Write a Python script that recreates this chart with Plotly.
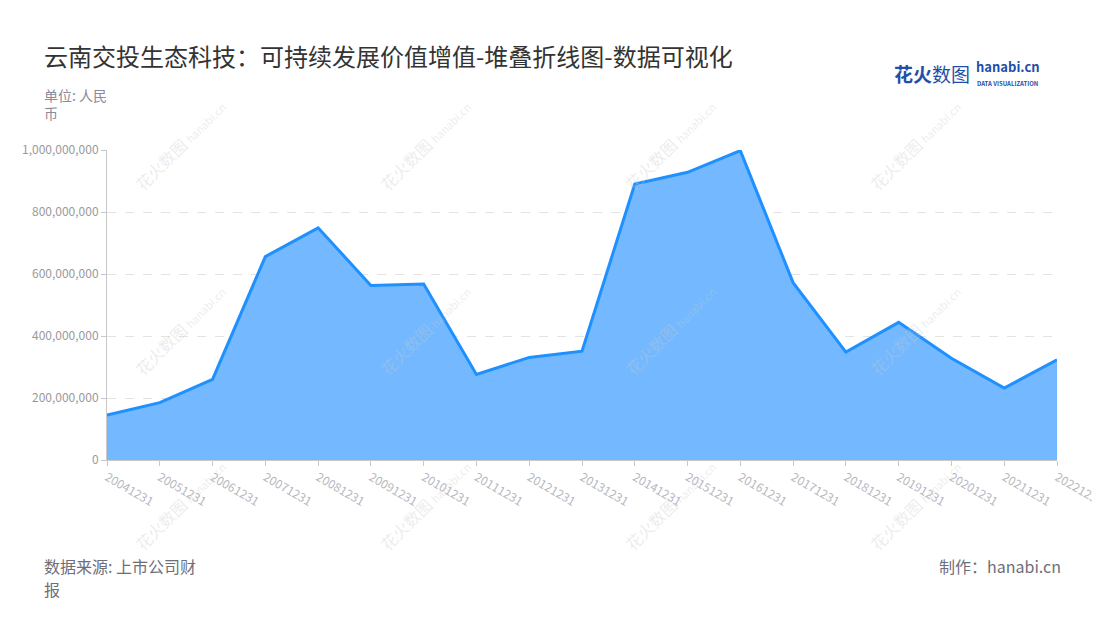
import plotly.graph_objects as go

categories = ["20041231", "20051231", "20061231", "20071231", "20081231", "20091231",
              "20101231", "20111231", "20121231", "20131231", "20141231", "20151231",
              "20161231", "20171231", "20181231", "20191231", "20201231", "20211231",
              "20221231"]
values = [145e6, 185e6, 260e6, 656e6, 749e6, 563e6, 568e6, 276e6, 331e6, 351e6,
          890e6, 928e6, 998e6, 572e6, 348e6, 444e6, 328e6, 232e6, 323e6]
y_ticks = [0, 200e6, 400e6, 600e6, 800e6, 1000e6]

FONT = "Noto Sans CJK SC"
OFF = 8  # page body margin offset
W, H = 1100 - OFF, 620 - OFF
PL, PR, PT, PB = 107 - OFF, 1057 - OFF, 150 - OFF, 460 - OFF

fig = go.Figure()
fig.add_trace(go.Scatter(
    x=categories, y=values, mode="lines",
    line=dict(color="#1e90ff", width=3),
    fill="tozeroy", fillcolor="#74b9ff",
    hoverinfo="x+y", showlegend=False,
))

fig.update_layout(
    width=W, height=H,
    margin=dict(l=PL, r=W - PR, t=PT, b=H - PB, autoexpand=False),
    paper_bgcolor="white", plot_bgcolor="white",
    font=dict(family=FONT, color="#999999", size=12),
    xaxis=dict(
        type="category", range=[0, len(categories) - 1], automargin=False,
        showline=True, linecolor="#c8c8c8", linewidth=1,
        ticks="outside", ticklen=5, tickcolor="#c8c8c8",
        tickangle=30, tickfont=dict(size=12, color="#b8b8c0"),
        showgrid=False, zeroline=False,
    ),
    yaxis=dict(
        range=[0, 1e9], tickvals=y_ticks, tickformat=",d", automargin=False,
        showline=True, linecolor="#c8c8c8", linewidth=1,
        ticks="outside", ticklen=5, tickcolor="#c8c8c8",
        tickfont=dict(size=12, color="#999999"),
        showgrid=True, gridcolor="#e3e3e3", griddash="dash", gridwidth=1,
        zeroline=False,
    ),
)

# Convert reference pixel positions to paper coordinates
def px2x(px):
    return (px - OFF - PL) / (PR - PL)

def py2y(py):
    return (PB - (py - OFF)) / (PB - PT)

# Watermarks (faint, rotated)
wm_x = [180, 425, 670, 915]
wm_y = [145, 330, 505]
for wy in wm_y:
    for wx in wm_x:
        fig.add_annotation(
            text="花火数图 <span style='font-size:11px'>hanabi.cn</span>",
            x=px2x(wx), y=py2y(wy), xref="paper", yref="paper",
            xanchor="center", yanchor="middle", showarrow=False,
            textangle=-45, font=dict(family=FONT, size=16, color="rgba(200,200,200,0.35)"),
        )

def paper_text(text, px, py, size, color, anchor="left", yanchor="middle"):
    fig.add_annotation(
        text=text, x=px2x(px), y=py2y(py), xref="paper", yref="paper",
        xanchor=anchor, yanchor=yanchor, showarrow=False, align=anchor, borderpad=0,
        font=dict(family=FONT, size=size, color=color),
    )

paper_text("云南交投生态科技：可持续发展价值增值-堆叠折线图-数据可视化", 43, 55, 24, "#333333")
paper_text("单位: 人民<br>币", 43, 104, 14, "#8a8a99")
paper_text("数据来源: 上市公司财", 43, 566, 16, "#6e6e7a")
paper_text("报", 43, 589, 16, "#6e6e7a")
paper_text("制作：hanabi.cn", 1062, 566, 16, "#6e6e7a", anchor="right")
paper_text("<b>花火</b>数图", 893, 73, 19, "#1f4fa8")
paper_text("<b>hanabi.cn</b>", 975, 77, 13, "#1f4fa8", yanchor="bottom")
paper_text("<b>DATA VISUALIZATION</b>", 976, 77.5, 6, "#1f4fa8", yanchor="top")

fig.write_html("out.html")
